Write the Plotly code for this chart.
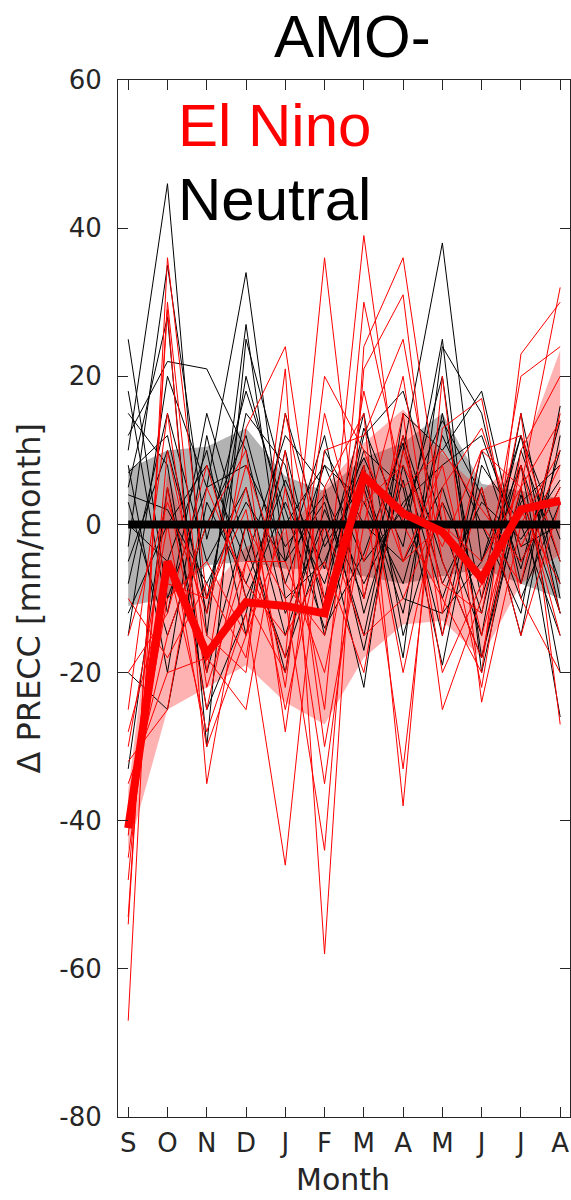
import plotly.graph_objects as go

months = ["S", "O", "N", "D", "J", "F", "M", "A", "M", "J", "J", "A"]
month_idx = list(range(1, 13))

# El Nino ensemble members (mm/month anomalies)
elnino_members = [
    [-67, 36, -10, 5, -22, 20, 10, -5, 8, -15, 5, 32],
    [-54, 30, -20, 13, 24, -12, 39, 0, -10, -20, 23, 30],
    [-53, 29, -35, -5, -18, 36, -10, 15, -25, -10, 20, 24],
    [-48, 10, -15, -20, 21, -58, 24, 36, 0, -5, 5, 14],
    [-45, -5, -28, -12, -46, 5, 15, -38, 20, -24, 0, 10],
    [-42, 5, -25, 0, -10, -44, 21, 31, -12, 10, 12, -5],
    [-40, -10, -5, -15, 0, -35, 5, -33, 13, 17, -10, -20],
    [-38, -15, 0, 10, -28, 10, 12, 25, -5, -18, 8, -12],
    [-35, -20, -18, -25, 5, -25, 30, 5, 10, 2, -5, 5],
    [-32, -25, 5, -8, -15, -5, -20, 10, -8, -12, 15, -27],
    [-30, 0, -30, -15, 10, -30, 0, 20, -15, 5, -15, 3],
    [-28, -8, -10, 2, -25, 0, -15, -10, 3, -22, 10, 20],
    [-25, 15, -22, -5, -5, -20, 8, -20, 5, 13, -3, 8],
    [-20, -12, 8, -10, -20, 15, -5, 12, -20, -8, 2, -8],
    [-15, 3, -12, 8, -8, -15, 18, -5, 0, 0, -8, 15],
    [-10, -18, -8, -18, 15, -10, 3, 8, -3, 10, 5, -15],
]

# Neutral ensemble members
neutral_members = [
    [25, -10, 5, 34, -5, 3, -15, 10, 38, -5, 12, -12],
    [10, 46, -15, 27, -10, -5, 8, -18, 24, 15, -8, 10],
    [5, 28, -30, 25, 5, -10, 13, 0, 20, -18, 5, -26],
    [12, 22, 21, 10, -12, 0, -22, 15, 10, 18, -5, 5],
    [-5, 10, -10, 15, 8, -15, 5, -12, 15, -10, 8, -8],
    [-12, 0, 8, -5, 12, 5, -17, 8, -10, 5, -15, 12],
    [-33, 5, -20, 0, -20, 10, 0, -5, 5, -12, 10, -5],
    [8, -20, 12, -10, 3, -8, 10, 5, -19, 8, 0, -15],
    [-8, 15, -5, 5, -15, 2, -10, 12, -5, -18, 3, 8],
    [3, -15, 0, 12, -8, 8, 3, -8, 12, 0, -12, 16],
    [15, 8, -25, -12, 10, -12, 12, 18, 0, -15, 15, -10],
    [-15, 20, 5, 8, -3, 4, -8, 3, 8, 12, -3, 0],
    [0, -5, 10, -15, 15, -3, 6, -10, -12, -5, 8, -20],
    [7, 12, -12, 20, 0, 8, -5, 2, 14, 4, -10, 3],
    [-20, -25, 3, -8, 6, -6, 15, -15, 3, -8, 12, -2],
    [4, 2, -8, 3, -5, 12, -12, 6, -15, 10, -6, 14],
    [18, -12, 15, -3, -18, -2, 9, -3, 25, -20, 4, -12],
    [-3, 35, -2, 18, 2, -14, -4, 11, -8, 3, -2, 6],
]

elnino_mean = [-41, -5, -17.5, -10.5, -11, -12, 6.5, 1.5, -1, -7.3, 2, 3.2]
neutral_mean = [0] * 12

elnino_upper = [-36, 7, -9.5, -3, -1, 5, 11, 15.5, 9.5, 4.5, 9, 23.5]
elnino_lower = [-44, -25, -22, -19, -24, -27, -18, -13.5, -13, -18, -8, -4]
neutral_upper = [7.5, 10, 10.5, 13, 6.5, 4.5, 9, 11, 15, 5.5, 4.5, 3.5]
neutral_lower = [-11, -10, -5.5, -5, -6, -6, -7, -8, -7, -6, -8, -10]

yticks = [-80, -60, -40, -20, 0, 20, 40, 60]
ytick_text = ["-80", "-60", "-40", "-20", "0", "20", "40", "60"]

fig = go.Figure()

# spread bands
fig.add_trace(go.Scatter(
    x=month_idx + month_idx[::-1], y=neutral_upper + neutral_lower[::-1],
    fill="toself", fillcolor="rgba(0,0,0,0.3)", line=dict(width=0),
    mode="lines", hoverinfo="skip", showlegend=False))
fig.add_trace(go.Scatter(
    x=month_idx + month_idx[::-1], y=elnino_upper + elnino_lower[::-1],
    fill="toself", fillcolor="rgba(255,0,0,0.3)", line=dict(width=0),
    mode="lines", hoverinfo="skip", showlegend=False))

for m in neutral_members:
    fig.add_trace(go.Scatter(x=month_idx, y=m, mode="lines",
                             line=dict(color="black", width=1), showlegend=False))
for m in elnino_members:
    fig.add_trace(go.Scatter(x=month_idx, y=m, mode="lines",
                             line=dict(color="red", width=1), showlegend=False))

fig.add_trace(go.Scatter(x=month_idx, y=neutral_mean, mode="lines",
                         line=dict(color="black", width=8), showlegend=False))
fig.add_trace(go.Scatter(x=month_idx, y=elnino_mean, mode="lines",
                         line=dict(color="red", width=8), showlegend=False))

axcol = "#262626"
fig.update_layout(
    width=571, height=1200,
    margin=dict(l=118, r=1, t=80, b=83),
    plot_bgcolor="white", paper_bgcolor="white",
    xaxis=dict(range=[0.74, 12.25], tickvals=month_idx, ticktext=months,
               ticks="inside", ticklen=10, tickcolor=axcol, showline=True,
               linecolor=axcol, linewidth=1, mirror="ticks", showgrid=False,
               zeroline=False, ticklabelstandoff=3,
               tickfont=dict(family="DejaVu Sans", size=26, color=axcol)),
    yaxis=dict(range=[-80, 60], tickvals=yticks, ticktext=ytick_text,
               ticks="inside", ticklen=10, tickcolor=axcol, showline=True,
               linecolor=axcol, linewidth=1, mirror="ticks", showgrid=False,
               zeroline=False, ticklabelstandoff=10,
               tickfont=dict(family="DejaVu Sans", size=26, color=axcol)),
    annotations=[
        dict(text="AMO-", x=0.518, y=1.0424, xref="paper", yref="paper",
             xanchor="center", yanchor="middle", showarrow=False,
             font=dict(family="Liberation Sans", size=60, color="black")),
        dict(text="El Nino", x=0.128, y=0.956, xref="paper", yref="paper",
             xanchor="left", yanchor="middle", showarrow=False,
             font=dict(family="Liberation Sans", size=60, color="red")),
        dict(text="Neutral", x=0.128, y=0.8843, xref="paper", yref="paper",
             xanchor="left", yanchor="middle", showarrow=False,
             font=dict(family="Liberation Sans", size=60, color="black")),
        dict(text="Δ PRECC [mm/month]", x=-0.199, y=0.5, xref="paper", yref="paper",
             xanchor="center", yanchor="middle", textangle=-90, showarrow=False,
             font=dict(family="DejaVu Sans", size=32, color=axcol)),
        dict(text="Month", x=0.497, y=-0.0598, xref="paper", yref="paper",
             xanchor="center", yanchor="middle", showarrow=False,
             font=dict(family="DejaVu Sans", size=30, color=axcol)),
    ],
)

fig.write_html("out.html")
